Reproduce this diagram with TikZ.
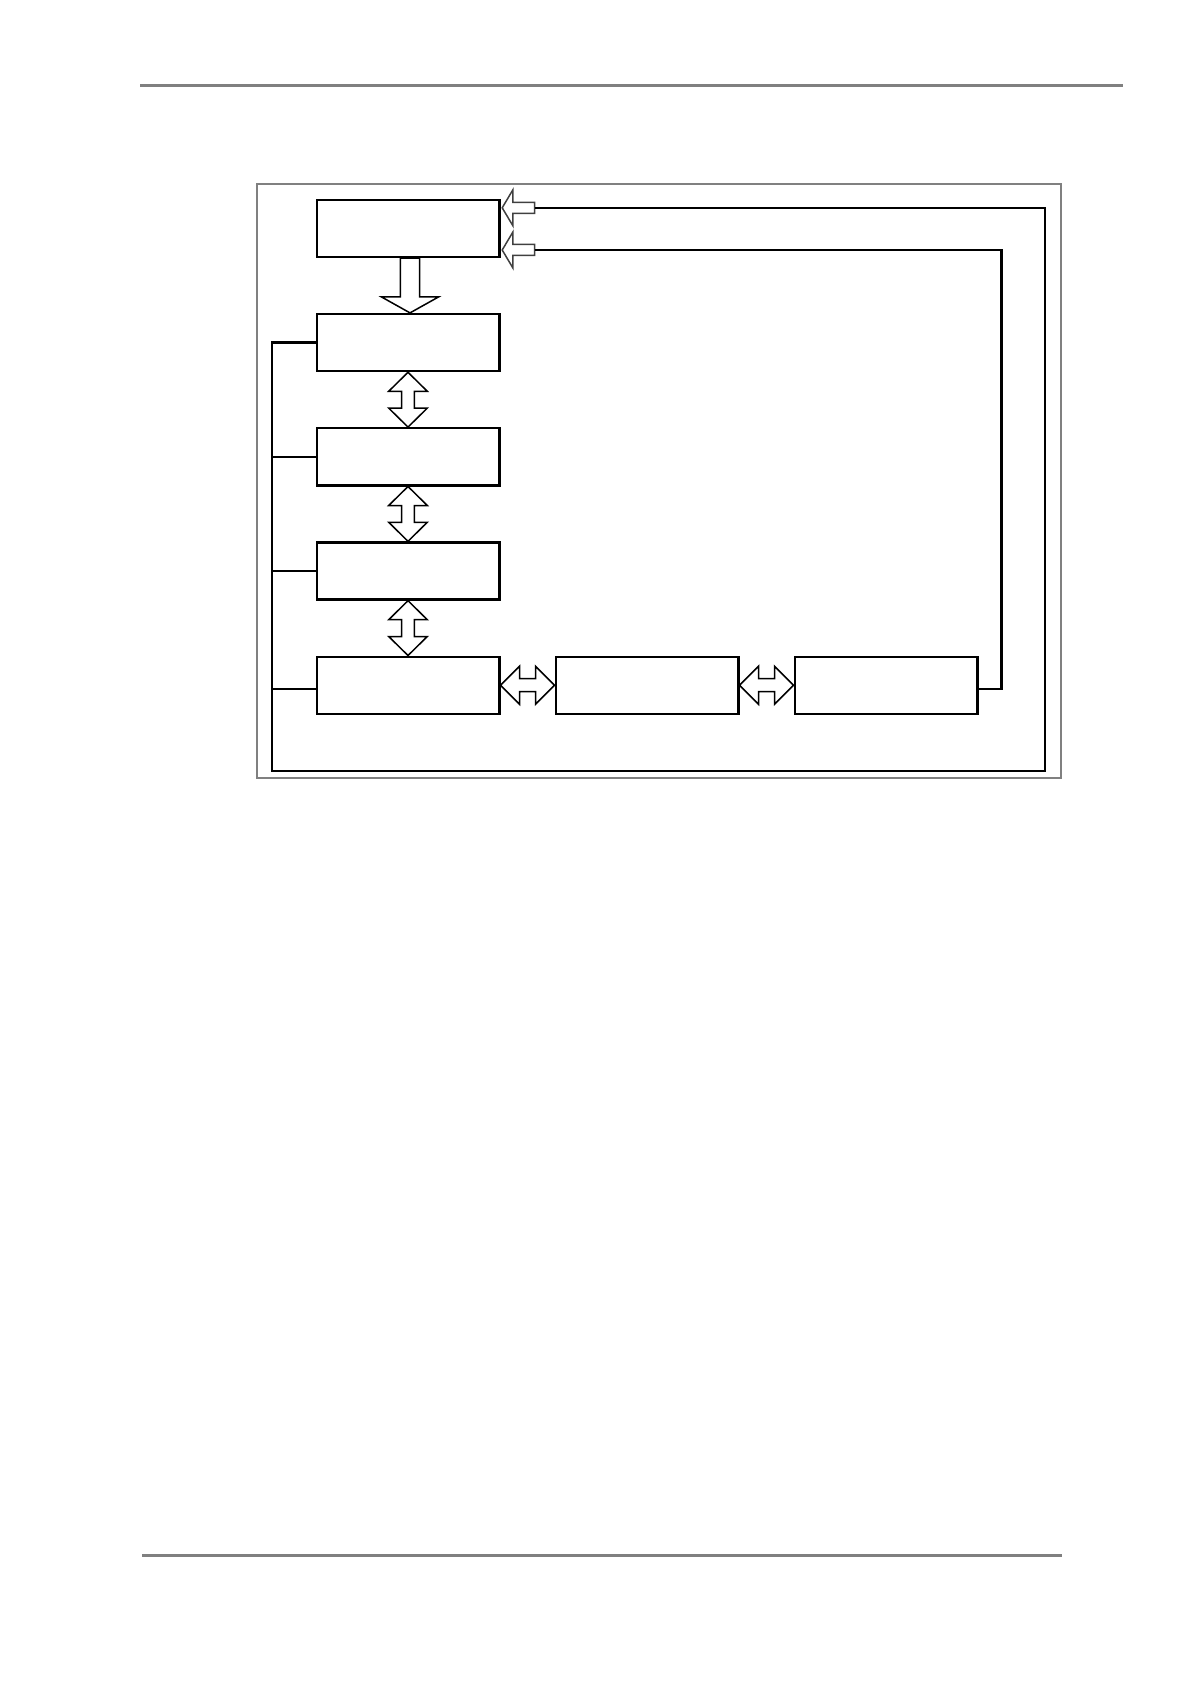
\documentclass[tikz,border=0pt]{standalone}
\usepackage{tikz}
\usepackage{xcolor}
\definecolor{RuleGray}{HTML}{808080}
\definecolor{ArrowGray}{HTML}{404040}
\usetikzlibrary{calc}
\newcommand{\blkw}{91.3pt}
\newcommand{\blkh}{28.5pt}
\newcommand{\colx}{408}
\newcommand{\rowy}{114.2}
% hollow double arrow, block above to block below
\newcommand{\vdarrow}[2]{
  \draw[hollow] (#1.south) -- ++(19.3,19) -- ++(-13,0)
    -- ($(#2.north)+(6.3,-19)$) -- ++(13,0) -- (#2.north)
    -- ++(-19.3,-19) -- ++(13,0)
    -- ($(#1.south)+(-6.3,19)$) -- ++(-13,0) -- cycle;
}
% hollow double arrow, block left to block right
\newcommand{\hdarrow}[2]{
  \draw[hollow] (#1.east) -- ++(19,-19) -- ++(0,12.5)
    -- ($(#2.west)+(-19,-6.5)$) -- ++(0,-12.5) -- (#2.west)
    -- ++(-19,19) -- ++(0,-12.5)
    -- ($(#1.east)+(19,6.5)$) -- ++(0,12.5) -- cycle;
}
% hollow single arrow, downwards
\newcommand{\dnarrow}[2]{
  \draw[hollow] ($(#2.north)+(2,0)$) -- ++(28.6,-16) -- ++(-18.9,0)
    -- ($(#1.south)+(11.7,0)$) -- ++(-19.4,0)
    -- ($(#2.north)+(-7.7,-16)$) -- ++(-18.9,0) -- cycle;
}
% hollow single arrow, pointing left at #1
\newcommand{\inarrow}[1]{
  \draw[hollow,draw=ArrowGray] (#1) -- ++(10.7,-18) -- ++(0,12.5)
    -- ++(21.6,0) -- ++(0,11) -- ++(-21.6,0) -- ++(0,12.5) -- cycle;
}

\begin{document}
\begin{tikzpicture}[x=0.5pt,y=-0.5pt,
    blk/.style={draw,line width=1.2pt,minimum width=\blkw,
      minimum height=\blkh,inner sep=0pt},
    hollow/.style={draw=black,line width=0.75pt,fill=white},
    wire/.style={line width=1.1pt}]
    \useasboundingbox (0,0) rectangle (1191,1684);
    % page rules
    \draw[RuleGray,line width=1.35pt] (140,85.3) -- (1123.3,85.3);
    \draw[RuleGray,line width=1.35pt] (142,1555.3) -- (1062.3,1555.3);
    % frame
    \draw[RuleGray,line width=1pt] (257.3,184) rectangle (1060.7,777.7);
    % blocks
    \node[blk] (head) at (\colx,228.4) {};
    \node[blk] (stageb) at (\colx,228.4+\rowy) {};
    \node[blk] (stagec) at (\colx,228.4+2*\rowy) {};
    \node[blk] (staged) at (\colx,228.4+3*\rowy) {};
    \node[blk] (stagee) at (\colx,228.4+4*\rowy) {};
    \node[blk] (stagef) at (\colx+239,228.4+4*\rowy) {};
    \node[blk] (stageg) at (\colx+478,228.4+4*\rowy) {};
    % feedback inputs
    \coordinate (fbtipa) at ($(head.east)+(1.7,-20.6)$);
    \coordinate (fbtipb) at ($(head.east)+(1.7,21.6)$);
    \coordinate (fbtaila) at ($(fbtipa)+(32.3,0)$);
    \coordinate (fbtailb) at ($(fbtipb)+(32.3,0)$);
    \inarrow{fbtipa}
    \inarrow{fbtipb}
    % wiring
    \coordinate (outerse) at (1045,770.7);
    \coordinate (buss) at (272,770.7);
    \coordinate (ein) at ($(stagee.west)+(0,3.5)$);
    \coordinate (gout) at ($(stageg.east)+(0,3.5)$);
    \coordinate (innerturn) at ($(gout)+(23,0)$);
    \draw[wire] (fbtaila) -| (outerse) -- (buss) |- (stageb.west);
    \foreach \blkname in {stagec,staged}
      \draw[wire] (buss |- \blkname.west) -- (\blkname.west);
    \draw[wire] (buss |- ein) -- (ein);
    \draw[wire] (fbtailb) -| (innerturn) -- (gout);
    % block arrows
    \dnarrow{head}{stageb}
    \vdarrow{stageb}{stagec}
    \vdarrow{stagec}{staged}
    \vdarrow{staged}{stagee}
    \hdarrow{stagee}{stagef}
    \hdarrow{stagef}{stageg}
\end{tikzpicture}
\end{document}
